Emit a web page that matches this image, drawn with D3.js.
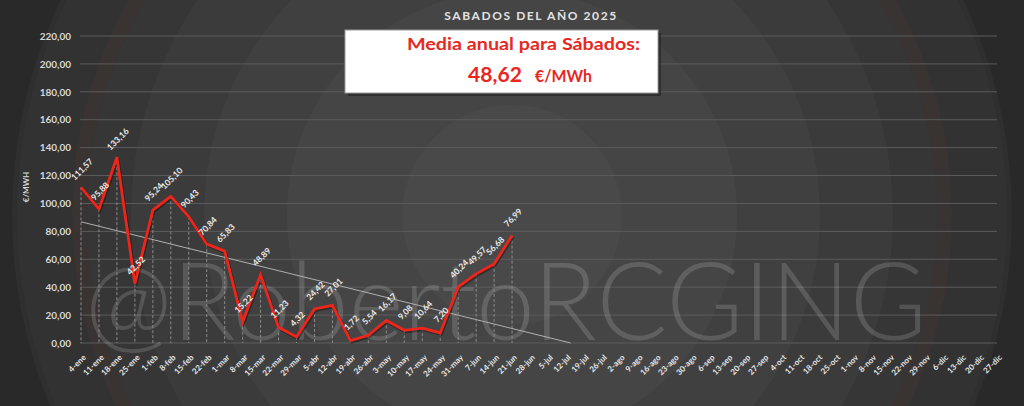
<!DOCTYPE html>
<html>
<head>
<meta charset="utf-8">
<script src="https://cdn.jsdelivr.net/npm/d3@7"></script>
<style>
  body { margin: 0; background: #2a2a2a; }
  svg { display: block; font-family: "Lato", "DejaVu Sans", sans-serif; }
</style>
</head>
<body>
<div id="chart"></div>
<script>
var w = 1024, h = 406;

// Saturdays of 2025 (x axis categories)
var semanas = [
  "4-ene", "11-ene", "18-ene", "25-ene", "1-feb", "8-feb", "15-feb", "22-feb",
  "1-mar", "8-mar", "15-mar", "22-mar", "29-mar", "5-abr", "12-abr", "19-abr",
  "26-abr", "3-may", "10-may", "17-may", "24-may", "31-may", "7-jun", "14-jun",
  "21-jun", "28-jun", "5-jul", "12-jul", "19-jul", "26-jul", "2-ago", "9-ago",
  "16-ago", "23-ago", "30-ago", "6-sep", "13-sep", "20-sep", "27-sep", "4-oct",
  "11-oct", "18-oct", "25-oct", "1-nov", "8-nov", "15-nov", "22-nov", "29-nov",
  "6-dic", "13-dic", "20-dic", "27-dic"
];

// Price per Saturday, €/MWh (only the weeks already past)
var precios = [
  111.57, 95.88, 133.16, 42.52, 95.24, 105.10, 90.43, 70.84,
  65.83, 15.22, 48.89, 11.23, 4.32, 24.42, 27.01, 1.72,
  5.54, 16.17, 9.08, 10.64, 7.20, 40.24, 49.57, 56.68,
  76.99
];

var yTicks = [0, 20, 40, 60, 80, 100, 120, 140, 160, 180, 200, 220];

var titulo = "SABADOS DEL AÑO 2025";
var mediaTexto = "Media anual para Sábados:";
var unidad = "€/MWh";

var fmt = function(v) { return d3.format(".2f")(v).replace(".", ","); };

var svg = d3.select("#chart")
  .append("svg")
  .attr("width", w)
  .attr("height", h);

// Background rings
svg.append("rect")
  .attr("width", w)
  .attr("height", h)
  .attr("fill", "#292929");

var rings = [
  { r: 500, c: "#2f2f2f" },
  { r: 495, c: "#323232" },
  { r: 440, c: "#393332" },
  { r: 425, c: "#363636" },
  { r: 381, c: "#3b3b3b" },
  { r: 308, c: "#404040" },
  { r: 225, c: "#454545" },
  { r: 110, c: "#494949" }
];
svg.append("g")
  .selectAll("circle")
  .data(rings)
  .enter()
  .append("circle")
  .attr("cx", 512)
  .attr("cy", 215)
  .attr("r", function(d) { return d.r; })
  .attr("fill", function(d) { return d.c; });

// Scales
var x = d3.scalePoint()
  .domain(semanas)
  .range([81, 997]);

var y = d3.scaleLinear()
  .domain([0, 220])
  .range([343, 36]);

// Gridlines
svg.append("g")
  .selectAll("line")
  .data(yTicks)
  .enter()
  .append("line")
  .attr("x1", 80)
  .attr("x2", 997)
  .attr("y1", function(d) { return y(d); })
  .attr("y2", function(d) { return y(d); })
  .attr("stroke", "#5c5c5c")
  .attr("stroke-width", 1);

// Watermark
svg.append("text")
  .attr("x", 85)
  .attr("y", 340)
  .attr("textLength", 842)
  .attr("lengthAdjust", "spacingAndGlyphs")
  .attr("font-size", 108)
  .attr("font-weight", 300)
  .attr("fill", "#ffffff")
  .attr("fill-opacity", 0.15)
  .text("@RobertoRCGING");

// Y axis labels
var yAxis = d3.axisLeft(y)
  .tickValues(yTicks)
  .tickSize(0)
  .tickPadding(0)
  .tickFormat(fmt);

var gy = svg.append("g")
  .attr("transform", "translate(71,0)")
  .call(yAxis);
gy.select(".domain").remove();
gy.selectAll("text")
  .attr("fill", "#d8d8d8")
  .attr("font-size", 10)
  .attr("font-weight", "bold")
  .attr("font-family", "Lato, sans-serif");

svg.append("text")
  .attr("transform", "translate(29,187) rotate(-90)")
  .attr("text-anchor", "middle")
  .attr("fill", "#d8d8d8")
  .attr("font-size", 8)
  .attr("font-weight", "bold")
  .text("€/MWH");

// X axis labels
var xAxis = d3.axisBottom(x)
  .tickSize(0)
  .tickPadding(0);

var gx = svg.append("g")
  .attr("transform", "translate(0,343)")
  .call(xAxis);
gx.select(".domain").remove();
gx.selectAll("text")
  .attr("fill", "#e6e6e6")
  .attr("font-size", 8)
  .attr("font-weight", "bold")
  .attr("font-family", "Lato, sans-serif")
  .attr("text-anchor", "end")
  .attr("dy", 0)
  .attr("y", 0)
  .attr("transform", "translate(5,15) rotate(-45)");

var puntos = precios.map(function(v, i) { return { s: semanas[i], v: v, i: i }; });

// Drop lines
svg.append("g")
  .selectAll("line")
  .data(puntos)
  .enter()
  .append("line")
  .attr("x1", function(d) { return x(d.s); })
  .attr("x2", function(d) { return x(d.s); })
  .attr("y1", function(d) { return y(d.v); })
  .attr("y2", y(0))
  .attr("stroke", "#8a8a8a")
  .attr("stroke-width", 1)
  .attr("stroke-dasharray", "3,2");

// Linear trend line (least squares), extended until it reaches 0
var mx = d3.mean(puntos, function(d) { return d.i; });
var my = d3.mean(precios);
var sxy = d3.sum(puntos, function(d) { return (d.i - mx) * (d.v - my); });
var sxx = d3.sum(puntos, function(d) { return (d.i - mx) * (d.i - mx); });
var slope = sxy / sxx;
var b0 = my - slope * mx;
var iZero = -b0 / slope;
var paso = x.step();

svg.append("line")
  .attr("x1", x(semanas[0]))
  .attr("y1", y(b0))
  .attr("x2", x(semanas[0]) + iZero * paso)
  .attr("y2", y(0))
  .attr("stroke", "#b0b0b0")
  .attr("stroke-width", 1);

// Price line
var line = d3.line()
  .x(function(d) { return x(d.s); })
  .y(function(d) { return y(d.v); });

svg.append("path")
  .datum(puntos)
  .attr("d", line)
  .attr("fill", "none")
  .attr("stroke", "#000")
  .attr("stroke-opacity", 0.35)
  .attr("stroke-width", 3)
  .attr("transform", "translate(1,1.5)");

svg.append("path")
  .datum(puntos)
  .attr("d", line)
  .attr("fill", "none")
  .attr("stroke", "#f0251a")
  .attr("stroke-width", 2.8)
  .attr("stroke-linejoin", "miter");

// Data labels
svg.append("g")
  .selectAll("text")
  .data(puntos)
  .enter()
  .append("text")
  .attr("transform", function(d) {
    return "translate(" + (x(d.s) + 1) + "," + (y(d.v) - 18) + ") rotate(-45)";
  })
  .attr("text-anchor", "middle")
  .attr("dy", "0.35em")
  .attr("fill", "#ececec")
  .attr("font-size", 8.5)
  .attr("font-weight", "bold")
  .text(function(d) { return fmt(d.v); });

// Title
svg.append("text")
  .attr("x", 531)
  .attr("y", 20)
  .attr("text-anchor", "middle")
  .attr("fill", "#e2e2e2")
  .attr("font-size", 12)
  .attr("font-weight", "bold")
  .attr("letter-spacing", 1.6)
  .text(titulo);

// Annual mean box
svg.append("rect")
  .attr("x", 348)
  .attr("y", 33)
  .attr("width", 313)
  .attr("height", 63)
  .attr("fill", "#222")
  .attr("opacity", 0.6);

svg.append("rect")
  .attr("x", 345)
  .attr("y", 30)
  .attr("width", 313)
  .attr("height", 63)
  .attr("fill", "#ffffff")
  .attr("stroke", "#9a9a9a")
  .attr("stroke-width", 1);

svg.append("text")
  .attr("x", 407)
  .attr("y", 50)
  .attr("textLength", 233)
  .attr("lengthAdjust", "spacingAndGlyphs")
  .attr("fill", "#e8281e")
  .attr("font-size", 17)
  .attr("font-weight", "bold")
  .text(mediaTexto);

svg.append("text")
  .attr("x", 468)
  .attr("y", 82)
  .attr("textLength", 54)
  .attr("lengthAdjust", "spacingAndGlyphs")
  .attr("fill", "#e8281e")
  .attr("font-size", 20)
  .attr("font-weight", "bold")
  .text(fmt(d3.mean(precios)));

svg.append("text")
  .attr("x", 535)
  .attr("y", 82)
  .attr("textLength", 57)
  .attr("lengthAdjust", "spacingAndGlyphs")
  .attr("fill", "#e8281e")
  .attr("font-size", 17)
  .attr("font-weight", "bold")
  .text(unidad);
</script>
</body>
</html>
